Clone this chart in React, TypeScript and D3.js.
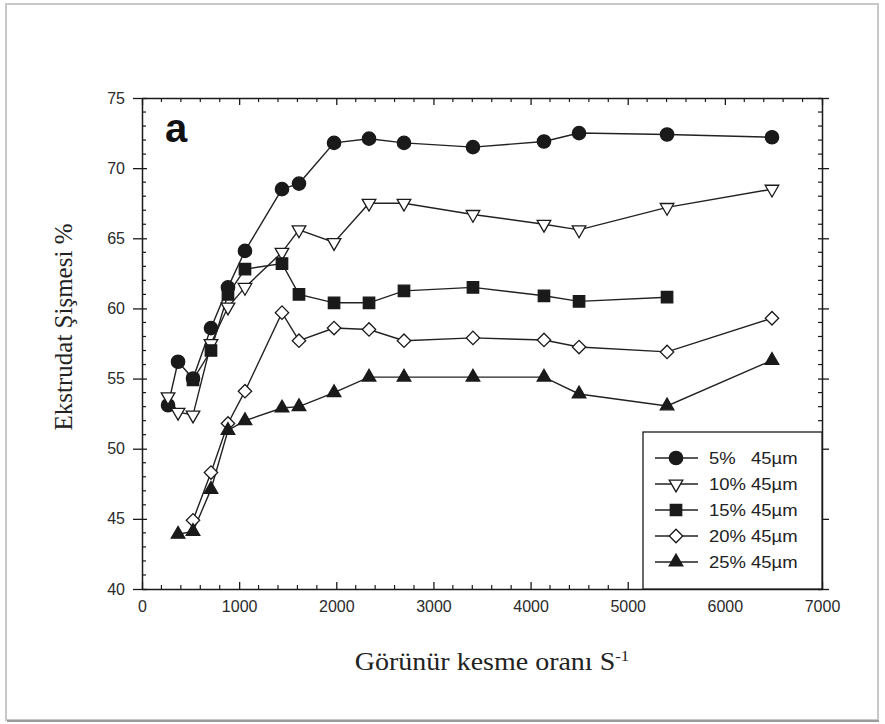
import React, { useRef, useEffect } from 'react';
import * as d3 from 'd3';

// shear rates (s^-1) shared by all series
const shearRate = [268, 371, 525, 710, 885, 1060, 1441, 1616, 1977, 2337, 2697, 3407, 4138, 4499, 5405, 6485];

const swell5 = [53.1, 56.2, 55.0, 58.6, 61.5, 64.1, 68.5, 68.9, 71.8, 72.1, 71.8, 71.5, 71.9, 72.5, 72.4, 72.2];
const swell10 = [53.7, 52.6, 52.4, 57.5, 60.1, 61.5, 64.0, 65.6, 64.7, 67.5, 67.5, 66.7, 66.0, 65.6, 67.2, 68.5];
const swell15 = [null, null, 54.9, 57.0, 61.0, 62.8, 63.2, 61.0, 60.4, 60.4, 61.25, 61.5, 60.9, 60.5, 60.8, null];
const swell20 = [null, null, 44.9, 48.3, 51.8, 54.1, 59.7, 57.7, 58.6, 58.5, 57.7, 57.9, 57.75, 57.25, 56.9, 59.3];
const swell25 = [null, 43.9, 44.1, 47.1, 51.3, 52.0, 52.9, 53.0, 54.0, 55.1, 55.1, 55.1, 55.1, 53.9, 53.05, 56.3];

const seriesLabels = ['5%   45\u00b5m', '10% 45\u00b5m', '15% 45\u00b5m', '20% 45\u00b5m', '25% 45\u00b5m'];

const xTicks = [0, 1000, 2000, 3000, 4000, 5000, 6000, 7000];
const yTicks = [40, 45, 50, 55, 60, 65, 70, 75];

export default function App() {
    const svgRef = useRef(null);

    useEffect(() => {
        const W = 885, H = 724;
        const left = 142, right = 822, top = 98, bottom = 589;
        const ink = '#1a1a1a';
        const sans = '"Liberation Sans", Arial, sans-serif';
        const serif = '"Liberation Serif", "Times New Roman", serif';

        const x = d3.scaleLinear().domain([0, 7000]).range([left, right]);
        const y = d3.scaleLinear().domain([40, 75]).range([bottom, top]);

        const svg = d3.select(svgRef.current)
            .attr('width', W)
            .attr('height', H);
        svg.selectAll('*').remove();

        svg.append('rect').attr('width', W).attr('height', H).attr('fill', '#fff');
        // outer picture frame
        svg.append('rect')
            .attr('x', 6).attr('y', 4).attr('width', 872).attr('height', 716)
            .attr('fill', 'none').attr('stroke', '#c8c8c8').attr('stroke-width', 2);
        svg.append('line')
            .attr('x1', 7).attr('x2', 879).attr('y1', 721).attr('y2', 721)
            .attr('stroke', '#9a9a9a').attr('stroke-width', 2);

        const minorX = d3.range(0, 7001, 200).filter(v => v % 1000 !== 0);
        const minorY = d3.range(40, 76, 1).filter(v => v % 5 !== 0);

        // bottom axis
        const bAxis = svg.append('g').attr('transform', `translate(0,${bottom})`)
            .call(d3.axisBottom(x).tickValues(xTicks).tickFormat(d3.format('d'))
                .tickSizeInner(-7).tickSizeOuter(0).tickPadding(12));
        bAxis.select('.domain').attr('stroke', ink).attr('stroke-width', 1.5);
        bAxis.selectAll('.tick line').attr('stroke', ink).attr('stroke-width', 1.3);
        bAxis.selectAll('.tick text').attr('font-family', sans).attr('font-size', 16).attr('fill', '#2a2a2a');
        bAxis.append('g').selectAll('line').data(minorX).join('line')
            .attr('x1', d => x(d)).attr('x2', d => x(d)).attr('y1', 0).attr('y2', -4)
            .attr('stroke', ink).attr('stroke-width', 1.2);

        // top axis
        const tAxis = svg.append('g').attr('transform', `translate(0,${top})`)
            .call(d3.axisTop(x).tickValues(xTicks).tickSizeInner(-7).tickSizeOuter(0).tickFormat(() => ''));
        tAxis.select('.domain').attr('stroke', ink).attr('stroke-width', 1.5);
        tAxis.selectAll('.tick line').attr('stroke', ink).attr('stroke-width', 1.3);
        tAxis.append('g').selectAll('line').data(minorX).join('line')
            .attr('x1', d => x(d)).attr('x2', d => x(d)).attr('y1', 0).attr('y2', 4)
            .attr('stroke', ink).attr('stroke-width', 1.2);

        // left axis
        const lAxis = svg.append('g').attr('transform', `translate(${left},0)`)
            .call(d3.axisLeft(y).tickValues(yTicks).tickSizeInner(9).tickSizeOuter(0).tickPadding(8));
        lAxis.select('.domain').attr('stroke', ink).attr('stroke-width', 1.5);
        lAxis.selectAll('.tick line').attr('stroke', ink).attr('stroke-width', 1.3).attr('x2', 5).attr('x1', -9);
        lAxis.selectAll('.tick text').attr('font-family', sans).attr('font-size', 16).attr('fill', '#2a2a2a');
        lAxis.append('g').selectAll('line').data(minorY).join('line')
            .attr('x1', 0).attr('x2', 4).attr('y1', d => y(d)).attr('y2', d => y(d))
            .attr('stroke', ink).attr('stroke-width', 1.2);

        // right axis
        const rAxis = svg.append('g').attr('transform', `translate(${right},0)`)
            .call(d3.axisRight(y).tickValues(yTicks).tickSizeInner(7).tickSizeOuter(0).tickFormat(() => ''));
        rAxis.select('.domain').attr('stroke', ink).attr('stroke-width', 1.5);
        rAxis.selectAll('.tick line').attr('stroke', ink).attr('stroke-width', 1.3).attr('x1', -4);
        rAxis.append('g').selectAll('line').data(minorY).join('line')
            .attr('x1', 0).attr('x2', -4).attr('y1', d => y(d)).attr('y2', d => y(d))
            .attr('stroke', ink).attr('stroke-width', 1.2);

        // series
        const series = [
            { vals: swell5, shape: d3.symbolCircle, size: 140, fill: ink, rot: 0 },
            { vals: swell10, shape: d3.symbolTriangle, size: 80, fill: '#fff', rot: 180 },
            { vals: swell15, shape: d3.symbolSquare, size: 130, fill: ink, rot: 0 },
            { vals: swell20, shape: d3.symbolSquare, size: 90, fill: '#fff', rot: 45 },
            { vals: swell25, shape: d3.symbolTriangle, size: 80, fill: ink, rot: 0 },
        ];

        const line = d3.line()
            .defined(d => d[1] != null)
            .x(d => x(d[0]))
            .y(d => y(d[1]));

        series.forEach(s => {
            const pts = shearRate.map((r, i) => [r, s.vals[i]]);
            svg.append('path')
                .attr('d', line(pts))
                .attr('fill', 'none')
                .attr('stroke', '#222')
                .attr('stroke-width', 1.4);
        });
        series.forEach(s => {
            const pts = shearRate.map((r, i) => [r, s.vals[i]]).filter(d => d[1] != null);
            svg.append('g').selectAll('path').data(pts).join('path')
                .attr('d', d3.symbol().type(s.shape).size(s.size)())
                .attr('transform', d => `translate(${x(d[0])},${y(d[1])}) rotate(${s.rot})`)
                .attr('fill', s.fill)
                .attr('stroke', ink)
                .attr('stroke-width', 1.3);
        });

        // panel letter
        svg.append('text')
            .attr('x', 165).attr('y', 142)
            .attr('font-family', sans).attr('font-weight', 'bold').attr('font-size', 40)
            .attr('fill', '#111')
            .text('a');

        // legend
        const lg = svg.append('g');
        lg.append('rect')
            .attr('x', 643).attr('y', 432).attr('width', right - 643).attr('height', bottom - 432)
            .attr('fill', '#fff').attr('stroke', ink).attr('stroke-width', 1.3);
        series.forEach((s, i) => {
            const ly = 458 + i * 26;
            lg.append('line')
                .attr('x1', 655).attr('x2', 698).attr('y1', ly).attr('y2', ly)
                .attr('stroke', '#222').attr('stroke-width', 1.4);
            lg.append('path')
                .attr('d', d3.symbol().type(s.shape).size(s.size)())
                .attr('transform', `translate(676,${ly}) rotate(${s.rot})`)
                .attr('fill', s.fill).attr('stroke', ink).attr('stroke-width', 1.3);
            lg.append('text')
                .attr('transform', `translate(709,${ly + 6}) scale(1.12,1)`)
                .attr('font-family', sans).attr('font-size', 16.5).attr('fill', '#222')
                .attr('xml:space', 'preserve')
                .style('white-space', 'pre')
                .text(seriesLabels[i]);
        });

        // axis titles
        svg.append('text')
            .attr('transform', `translate(72,${327}) rotate(-90)`)
            .attr('text-anchor', 'middle')
            .attr('font-family', serif).attr('font-size', 25).attr('fill', '#222')
            .text('Ekstrudat Şişmesi %');

        const xt = svg.append('text')
            .attr('transform', `translate(492,670) scale(1.12,1)`)
            .attr('text-anchor', 'middle')
            .attr('font-family', serif).attr('font-size', 25).attr('fill', '#222');
        xt.append('tspan').text('Görünür kesme oranı S');
        xt.append('tspan').attr('dy', -9).attr('font-size', 15).text('-1');
    }, []);

    return (
        <svg ref={svgRef} style={{ position: 'absolute', left: 0, top: 0 }}></svg>
    );
}
